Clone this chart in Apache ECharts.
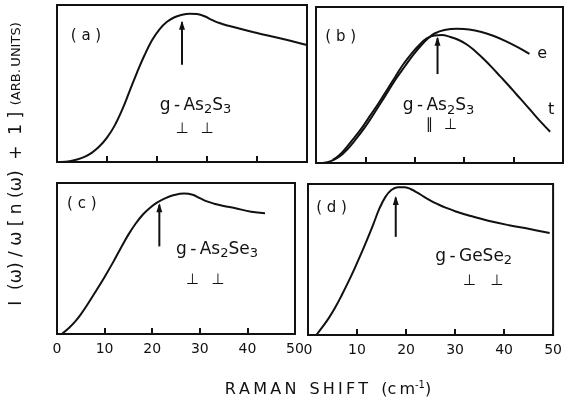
<!DOCTYPE html>
<html>
<head>
<meta charset="utf-8">
<script src="https://cdn.jsdelivr.net/npm/echarts@6/dist/echarts.min.js"></script>
<style>
  html, body { margin: 0; padding: 0; background: #fff; }
  #chart { width: 565px; height: 406px; }
</style>
</head>
<body>
<div id="chart"></div>
<script>
// Raman shift axis (cm^-1), shared by all four panels
const shiftTicks = [0, 10, 20, 30, 40, 50];

// Reduced Raman intensity I(w)/w[n(w)+1], arbitrary units, as [shift, intensity]
const curveA = [[0.8,0],[2.5,0.005],[4,0.016],[5.5,0.033],[7,0.06],[8.5,0.1],[10,0.155],[11.5,0.23],[13,0.33],[14.5,0.45],[16,0.57],[17.5,0.68],[19,0.775],[20.5,0.845],[22,0.893],[23.5,0.922],[25,0.938],[26.5,0.945],[28,0.942],[29.5,0.928],[31,0.905],[32.5,0.885],[34.5,0.866],[37,0.845],[40,0.822],[45,0.785],[50,0.745]];
const curveB_e = [[1.4,0],[3,0.012],[4.7,0.04],[6.4,0.09],[8,0.15],[9.7,0.22],[11.4,0.3],[13,0.38],[14.7,0.465],[16.3,0.545],[18,0.62],[19.6,0.69],[21.3,0.755],[22.7,0.8],[24,0.83],[26,0.852],[28.6,0.86],[31,0.856],[33.5,0.84],[36,0.814],[38.5,0.78],[41,0.74],[43.2,0.70]];
const curveB_t = [[3.4,0.02],[4.7,0.05],[6,0.094],[7.7,0.16],[9.4,0.23],[11,0.305],[12.7,0.385],[14.3,0.465],[16,0.55],[17.6,0.63],[19.3,0.70],[21,0.76],[22.5,0.80],[24,0.818],[25.5,0.82],[27,0.81],[28.8,0.79],[30.6,0.758],[32.3,0.715],[34,0.665],[35.7,0.61],[37.3,0.555],[39,0.497],[40.6,0.439],[42.3,0.379],[43.9,0.321],[45.6,0.26],[47.4,0.2]];
const curveC = [[1,0],[2.5,0.04],[3.75,0.08],[5,0.13],[6.5,0.2],[8.2,0.285],[10,0.378],[11.8,0.476],[13.5,0.575],[15,0.658],[16.5,0.73],[18,0.79],[19.5,0.835],[21,0.87],[22.8,0.9],[24.6,0.92],[26.7,0.93],[28.5,0.922],[30,0.9],[31.5,0.878],[33,0.863],[35,0.848],[37.3,0.834],[40.8,0.81],[43.7,0.80]];
const curveD = [[1.7,0],[3,0.055],[4.3,0.115],[5.6,0.185],[6.9,0.265],[8.2,0.35],[9.5,0.44],[10.8,0.535],[12.1,0.635],[13.4,0.74],[14.6,0.84],[15.8,0.915],[17,0.96],[18.3,0.979],[19.6,0.979],[20.9,0.967],[22.2,0.945],[23.6,0.917],[25,0.89],[26.5,0.866],[28.2,0.842],[30,0.82],[33,0.79],[37,0.755],[41,0.727],[45,0.703],[49.3,0.676]];

// Peak-position arrows: [shift, tail, head]
const arrowA = [25, 0.62, 0.89];
const arrowB = [24.6, 0.57, 0.80];
const arrowC = [21.5, 0.58, 0.856];
const arrowD = [17.9, 0.65, 0.91];

// Panel tags, materials and polarisation marks: [text, shift, intensity]
const tags = [['( a )', 5.8, 0.80], ['( b )', 5.0, 0.81], ['( c )', 5.2, 0.86], ['( d )', 4.8, 0.84]];
const materials = [
  ['g\u2009-\u2009As{s|2}S{s|3}', 27.7, 0.36],
  ['g\u2009-\u2009As{s|2}S{s|3}', 24.8, 0.365],
  ['g\u2009-\u2009As{s|2}Se{s|3}', 33.6, 0.56],
  ['g\u2009-\u2009GeSe{s|2}', 33.8, 0.52]
];
const polMarks = [
  [['\u22A5', 25, 0.21], ['\u22A5', 30, 0.21]],
  [['\u2225', 23, 0.24], ['\u22A5', 27.2, 0.24]],
  [['\u22A5', 28.4, 0.36], ['\u22A5', 33.8, 0.36]],
  [['\u22A5', 32.9, 0.36], ['\u22A5', 38.5, 0.36]]
];
const curveTags = [['e', 45.8, 0.70], ['t', 47.6, 0.34]];

const INK = '#111';
const FONT = 'DejaVu Sans';

const grids = [
  { left: 57, top: 5, width: 250, height: 157 },
  { left: 316, top: 7, width: 247, height: 156 },
  { left: 57, top: 183, width: 238, height: 151 },
  { left: 308, top: 184, width: 249, height: 151 }
].map(g => Object.assign(g, { show: true, borderColor: INK, borderWidth: 2, backgroundColor: 'transparent' }));

const xAxes = grids.map((g, i) => ({
  type: 'value', gridIndex: i,
  min: shiftTicks[0], max: shiftTicks[shiftTicks.length - 1], interval: shiftTicks[1] - shiftTicks[0],
  axisLine: { show: false },
  axisTick: { show: true, inside: true, length: 6, lineStyle: { color: INK, width: 2 } },
  splitLine: { show: false },
  axisLabel: { show: i >= 2, color: INK, fontSize: 14, fontFamily: FONT, margin: 8 }
}));
const yAxes = grids.map((g, i) => ({ type: 'value', gridIndex: i, min: 0, max: 1, show: false }));

function curve(i, data) {
  return {
    type: 'line', xAxisIndex: i, yAxisIndex: i, data: data,
    smooth: 0.4, showSymbol: false, silent: true,
    lineStyle: { color: INK, width: 2 }
  };
}
function arrow(i, a) {
  return {
    type: 'line', xAxisIndex: i, yAxisIndex: i, silent: true,
    symbol: 'none', showSymbol: true,
    lineStyle: { color: INK, width: 2 }, itemStyle: { color: INK, opacity: 1 },
    data: [[a[0], a[1]], { value: [a[0], a[2]], symbol: 'triangle', symbolSize: [6, 9], symbolOffset: [0, 3] }]
  };
}
function texts(i, items, size) {
  return {
    type: 'scatter', xAxisIndex: i, yAxisIndex: i, silent: true, symbolSize: 0,
    itemStyle: { opacity: 1 },
    data: items.map(t => ({
      value: [t[1], t[2]],
      label: { formatter: t[0] }
    })),
    label: {
      show: true, position: 'inside', color: INK, opacity: 1, fontFamily: FONT, fontSize: size, lineHeight: 22,
      rich: { s: { fontSize: size - 4, lineHeight: 12, verticalAlign: 'bottom', color: INK, fontFamily: FONT } }
    }
  };
}

const series = [
  curve(0, curveA), curve(1, curveB_e), curve(1, curveB_t), curve(2, curveC), curve(3, curveD),
  arrow(0, arrowA), arrow(1, arrowB), arrow(2, arrowC), arrow(3, arrowD)
];
for (let i = 0; i < 4; i++) {
  series.push(texts(i, [tags[i]], 15));
  series.push(texts(i, [materials[i]], 17));
  series.push(texts(i, polMarks[i], 15));
}
series.push(texts(1, curveTags, 16));

const chart = echarts.init(document.getElementById('chart'), null, { renderer: 'canvas' });
chart.setOption({
  animation: false,
  backgroundColor: '#fff',
  grid: grids, xAxis: xAxes, yAxis: yAxes, series: series,
  graphic: [
    {
      type: 'text', x: 17, y: 164, rotation: Math.PI / 2,
      style: {
        text: '{m|I  (ω) / ω [ n (ω)  +  1 ]}{u|\u2002(ARB.\u2009UNITS)}',
        align: 'center', verticalAlign: 'middle', fill: INK,
        rich: {
          m: { fontSize: 17, fontFamily: FONT, fill: INK },
          u: { fontSize: 13, fontFamily: FONT, fill: INK }
        }
      }
    },
    {
      type: 'text', x: 328, y: 390,
      style: {
        text: '{t|R\u2009A\u2009M\u2009A\u2009N\u2002 S\u2009H\u2009I\u2009F\u2009T\u2002 (c\u2009m}{p|-1}{t|)}',
        align: 'center', verticalAlign: 'middle', fill: INK,
        rich: {
          t: { fontSize: 16, lineHeight: 20, fontFamily: FONT, fill: INK },
          p: { fontSize: 10, lineHeight: 10, verticalAlign: 'top', fontFamily: FONT, fill: INK }
        }
      }
    }
  ]
});
</script>
</body>
</html>
